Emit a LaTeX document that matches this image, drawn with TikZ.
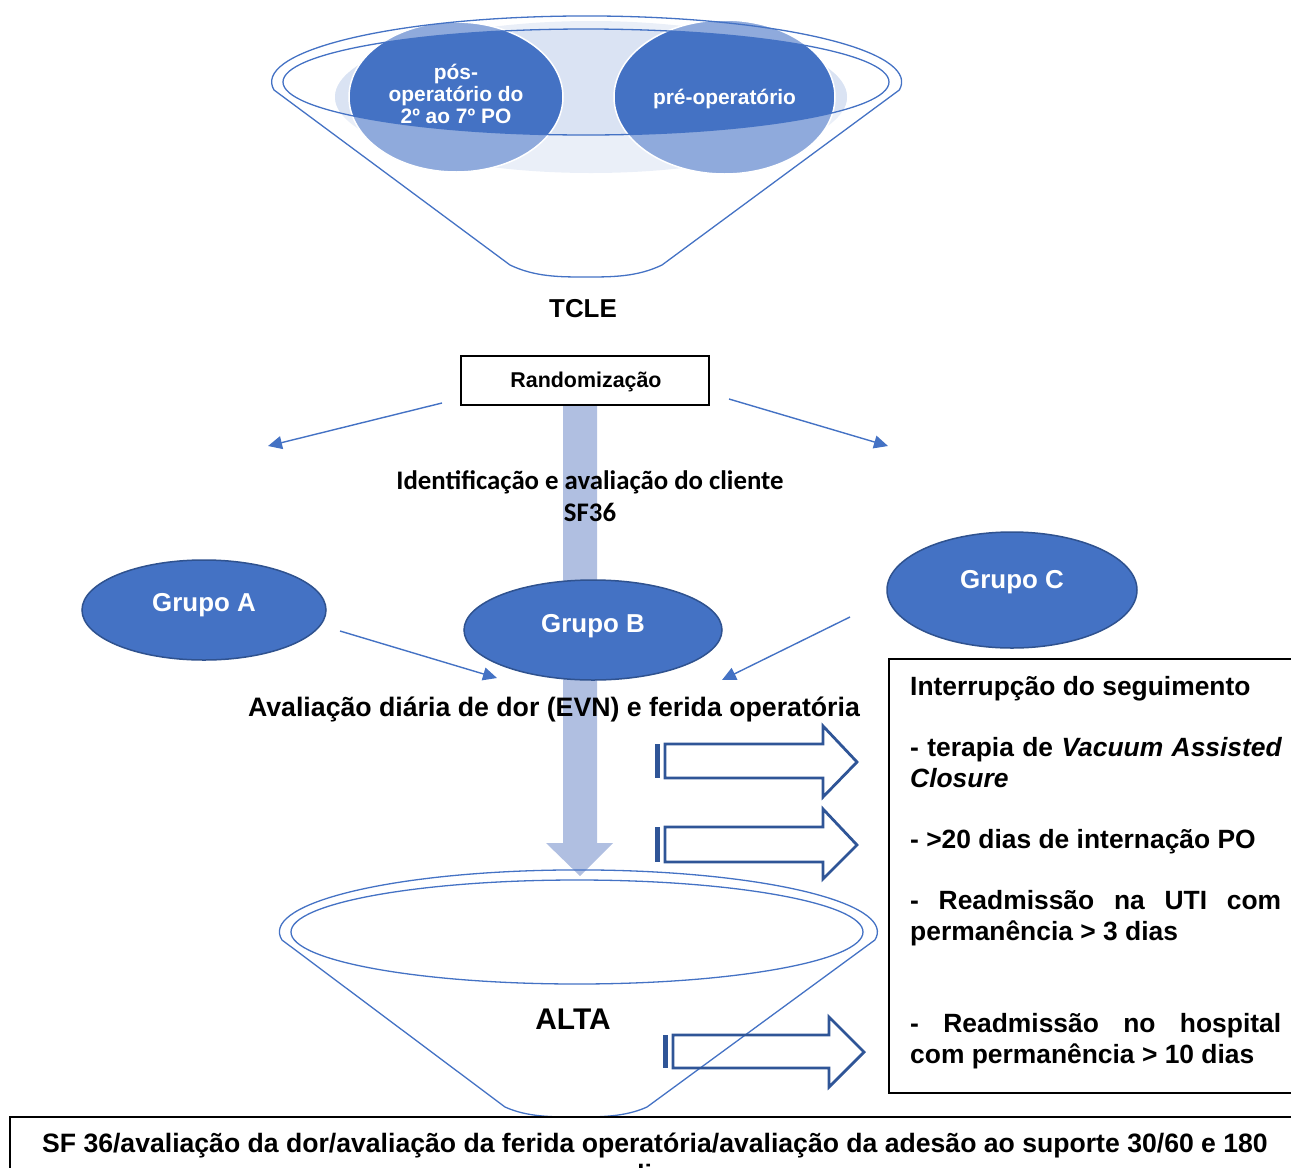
\documentclass[tikz,border=0pt]{standalone}
\usepackage{fontspec}
\setmainfont{Liberation Sans}
\newfontfamily\calib{Carlito}
\usetikzlibrary{arrows.meta,shapes.geometric}
\definecolor{mblue}{HTML}{4472C4}
\definecolor{lblue}{HTML}{8FAADC}
\definecolor{pale}{HTML}{DAE3F3}
\definecolor{paler}{HTML}{EAEFF8}
\definecolor{dblue}{HTML}{2F528F}
\definecolor{barblue}{HTML}{2F5597}
\definecolor{shaftblue}{HTML}{B0BFE1}
\begin{document}
\begin{tikzpicture}[x=1bp,y=-1bp,
  fun/.style={draw=mblue, line width=1.3bp},
  conn/.style={draw=mblue, line width=1.4bp, -{Triangle[length=14bp,width=13bp]}},
  grp/.style={ellipse, fill=mblue, draw=dblue, line width=1.5bp, minimum width=#1, inner sep=0pt},
  grptext/.style={text=white, font=\fontsize{26}{30}\selectfont\bfseries, anchor=base, inner sep=0pt},
  ctext/.style={text=white, font=\fontsize{21}{22}\selectfont\bfseries, align=center, inner sep=0pt},
  btext/.style={font=\fontsize{26.7}{31}\selectfont\bfseries, anchor=base, inner sep=0pt},
  rtext/.style={font=\fontsize{26.5}{31}\selectfont\bfseries, anchor=base west, inner sep=0pt},
  blockarrow/.style={draw=barblue, line width=2.8bp, line join=miter},
  stripe/.style={fill=barblue}
]
\useasboundingbox (0,0) rectangle (1291,1168);
\clip (0,0) rectangle (1291,1168);

% ---------- top funnel ----------
\fill[paler] (591,97) ellipse [x radius=256, y radius=76];
\fill[lblue] (456,97) ellipse [x radius=107, y radius=75];
\fill[lblue] (724.5,97) ellipse [x radius=110.5, y radius=77];
\begin{scope}
  \clip (586,82) ellipse [x radius=303, y radius=53];
  \fill[pale] (591,97) ellipse [x radius=256, y radius=76];
  \fill[mblue] (456,97) ellipse [x radius=107, y radius=75];
  \fill[mblue] (724.5,97) ellipse [x radius=110.5, y radius=77];
\end{scope}
\draw[white, line width=1.5bp] (456,97) ellipse [x radius=107, y radius=75];
\draw[white, line width=1.5bp] (724.5,97) ellipse [x radius=110.5, y radius=77];
\draw[fun] (274,90) arc[start angle=173, end angle=367, x radius=315, y radius=66]
  -- (662,265) .. controls (637,277) and (612,277) .. (586,277)
  .. controls (560,277) and (535,277) .. (510,265) -- cycle;
\draw[fun] (586,82) ellipse [x radius=303, y radius=53];

\node[ctext] (post) at (456,94) {pós-\\operatório do\\2º ao 7º PO};
\node[ctext, anchor=base] (pre) at (724.5,104.5) {pré-operatório};

\node[btext, font=\fontsize{26}{30}\selectfont\bfseries] (tcle) at (583,317) {TCLE};

% ---------- wide vertical arrow ----------
\fill[shaftblue] (563,405) -- (597,405) -- (597,843) -- (613,843) -- (580,876)
  -- (546,843) -- (563,843) -- cycle;

% ---------- randomization ----------
\node[draw, line width=1.2bp, minimum width=248bp, minimum height=49bp, inner sep=0pt,
      fill=white] (rand) at (585,380.5) {};
\node[anchor=base, inner sep=0pt, font=\fontsize{21.5}{24}\selectfont\bfseries] (randt) at (586,387.5) {Randomização};
\coordinate (rl1) at (442,403);
\coordinate (rl2) at (268,446);
\coordinate (rr1) at (729,399);
\coordinate (rr2) at (888,446);
\draw[conn] (rl1) -- (rl2);
\draw[conn] (rr1) -- (rr2);

\node[anchor=base, inner sep=0pt, font=\calib\fontsize{26.9}{30}\selectfont\bfseries] (ident) at (590,489) {Identificação e avaliação do cliente};
\node[anchor=base, inner sep=0pt, font=\calib\fontsize{26.9}{30}\selectfont\bfseries] (sf) at (590,521) {SF36};

% ---------- groups ----------
\node[grp=244bp, minimum height=100bp] (ga) at (204,610) {};
\node[grptext] (gat) at (204,611) {Grupo A};
\node[grp=258bp, minimum height=100bp] (gb) at (593,630) {};
\node[grptext] (gbt) at (593,632) {Grupo B};
\node[grp=250bp, minimum height=116bp] (gc) at (1012,590) {};
\node[grptext] (gct) at (1012,588) {Grupo C};

\coordinate (a1) at (340,631);
\coordinate (a2) at (497,678);
\coordinate (c1) at (850,617);
\coordinate (c2) at (722,680);
\draw[conn] (a1) -- (a2);
\draw[conn] (c1) -- (c2);

\node[btext, font=\fontsize{26.8}{30}\selectfont\bfseries] (aval) at (554,716) {Avaliação diária de dor (EVN) e ferida operatória};

% ---------- block arrows ----------
\fill[stripe] (655,744) rectangle (660,778);
\draw[blockarrow] (665,744) -- (823,744) -- (823,726) -- (857,762) -- (823,797) -- (823,778) -- (665,778) -- cycle;
\fill[stripe] (655,827) rectangle (660,862);
\draw[blockarrow] (665,827) -- (823,827) -- (823,809) -- (857,845) -- (823,879) -- (823,862) -- (665,862) -- cycle;

% ---------- bottom funnel ----------
\draw[fun] (282,940) arc[start angle=172.5, end angle=367.5, x radius=299, y radius=62]
  -- (647,1107) .. controls (625,1117) and (600,1117) .. (576,1117)
  .. controls (552,1117) and (527,1117) .. (505,1107) -- cycle;
\draw[fun] (577,932) ellipse [x radius=286, y radius=52];
\node[btext, font=\fontsize{30}{34}\selectfont\bfseries] (alta) at (573,1029) {ALTA};

\fill[stripe] (663,1035) rectangle (668,1068);
\draw[blockarrow] (673,1035) -- (829,1035) -- (829,1017) -- (864,1052) -- (829,1087) -- (829,1068) -- (673,1068) -- cycle;

% ---------- right box ----------
\draw[line width=1.2bp] (1300,659) -- (889,659) -- (889,1093) -- (1300,1093);
\node[rtext] (r1) at (910,695) {Interrupção do seguimento};
\node[rtext] (r2) at (910,756) {\makebox[372bp][s]{- terapia de \textit{Vacuum Assisted}}};
\node[rtext] (r3) at (910,787) {\textit{Closure}};
\node[rtext] (r4) at (910,848) {- >20 dias de internação PO};
\node[rtext] (r5) at (910,909) {\makebox[371bp][s]{- Readmissão na UTI com}};
\node[rtext] (r6) at (910,940) {permanência > 3 dias};
\node[rtext] (r7) at (910,1032) {\makebox[371bp][s]{- Readmissão no hospital}};
\node[rtext] (r8) at (910,1063) {com permanência > 10 dias};

% ---------- bottom box ----------
\draw[line width=1.2bp] (10,1200) -- (10,1117) -- (1300,1117);
\node[btext] (sfl1) at (655,1152) {SF 36/avaliação da dor/avaliação da ferida operatória/avaliação da adesão ao suporte 30/60 e 180};
\node[btext] (sfl2) at (655,1183) {dias};
\end{tikzpicture}
\end{document}
